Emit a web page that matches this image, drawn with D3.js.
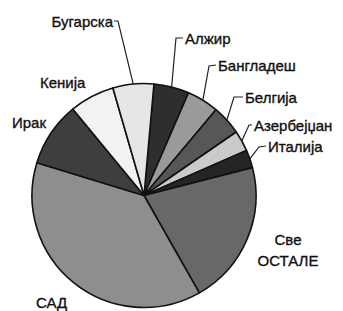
<!DOCTYPE html>
<html><head><meta charset="utf-8">
<script src="https://cdn.jsdelivr.net/npm/d3@7"></script>
<style>body{margin:0;background:#fff}svg{display:block}</style>
</head><body>
<script>
const categories = ["Алжир","Бангладеш","Белгија","Азербејџан","Италија","Све ОСТАЛЕ","САД","Ирак","Кенија","Бугарска"];
const values = [5.1, 4.6, 4.3, 3.0, 2.6, 20.8, 38.0, 9.3, 6.5, 5.9];
const colors = ["#2e2e2e","#9a9a9a","#575757","#cacaca","#252525","#686868","#8e8e8e","#3e3e3e","#f2f2f2","#e6e6e6"];

// label layout (not data)
const labelLayout = {
  "Бугарска":   {x:113, y:21, anchor:"end",   knee:[118,21]},
  "Алжир":      {x:185, y:38, anchor:"start", knee:[176,38]},
  "Бангладеш":  {x:218, y:65, anchor:"start", knee:[209,66]},
  "Белгија":    {x:245, y:97, anchor:"start", knee:[234,97]},
  "Азербејџан": {x:254, y:125, anchor:"start", knee:[249,125]},
  "Италија":    {x:268, y:146, anchor:"start", knee:[259,147]},
  "Кенија":     {x:40, y:82, anchor:"start"},
  "Ирак":       {x:12, y:122, anchor:"start"},
  "Све ОСТАЛЕ": {x:288, y:239, anchor:"middle", lines:["Све","ОСТАЛЕ"], dy:21},
  "САД":        {x:36, y:302, anchor:"start"}
};

const W=343, H=311, cx=144, cy=195.5, R=112;
const svg = d3.select("body").append("svg").attr("width",W).attr("height",H);
const data = categories.map((c,i)=>({name:c, value:values[i], color:colors[i]}));
const start = 5.1*Math.PI/180;
const pie = d3.pie().value(d=>d.value).sort(null).startAngle(start).endAngle(start+2*Math.PI);
const arc = d3.arc().innerRadius(0).outerRadius(R);
const arcs = pie(data);
const g = svg.append("g").attr("transform",`translate(${cx},${cy})`);
g.selectAll("path").data(arcs).join("path")
  .attr("d",arc).attr("fill",d=>d.data.color)
  .attr("stroke","#111").attr("stroke-width",1.6).attr("stroke-linejoin","round");

const font = "'Liberation Sans', Arial, sans-serif";
arcs.forEach(a=>{
  const L = labelLayout[a.data.name];
  if (L.knee){
    const m = (a.startAngle+a.endAngle)/2;
    const px = cx + R*Math.sin(m), py = cy - R*Math.cos(m);
    const tx = L.anchor==="end" ? L.x+1 : L.x-2;
    svg.append("polyline")
      .attr("points",`${tx},${L.y} ${L.knee[0]},${L.knee[1]} ${px},${py}`)
      .attr("fill","none").attr("stroke","#222").attr("stroke-width",1.2);
  }
  const lines = L.lines || [a.data.name];
  lines.forEach((t,i)=>{
    svg.append("text").attr("x",L.x).attr("y",L.y+(i*(L.dy||0)))
      .attr("dominant-baseline","central").attr("text-anchor",L.anchor)
      .attr("font-family",font).attr("font-size",15).attr("fill","#111")
      .attr("stroke","#111").attr("stroke-width",0.35)
      .text(t);
  });
});
</script>
</body></html>
